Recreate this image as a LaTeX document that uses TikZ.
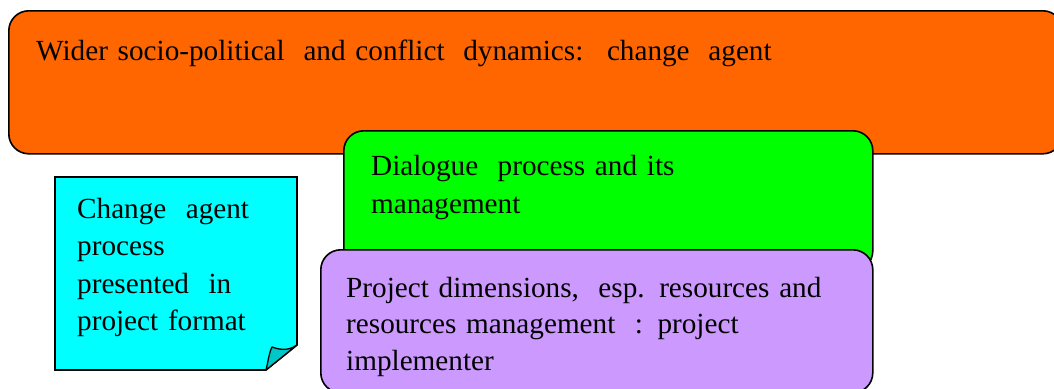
\documentclass[tikz,border=0pt]{standalone}
\usepackage{fontspec}
\setmainfont{Liberation Serif}
\definecolor{wideorange}{HTML}{FF6600}
\definecolor{dialoguegreen}{HTML}{00FF00}
\definecolor{projectpurple}{HTML}{CC99FF}
\definecolor{notecyan}{HTML}{00FFFF}
\definecolor{notefold}{HTML}{00C8C8}
\tikzset{
  panel/.style={draw=black, line width=1.6pt, rounded corners=20pt},
  label/.style={anchor=base west, inner sep=0pt, align=left, text width=#1},
  label/.default=520pt,
  txt/.style={font=\fontsize{29.2}{#1}\selectfont},
}
\begin{document}
\begin{tikzpicture}[x=1pt, y=-1pt]
  \clip (0,0) rectangle (1054,388);
  \useasboundingbox (0,0) rectangle (1054,388);

  % wider context panel (runs off the right edge)
  \node[panel, fill=wideorange, anchor=north west, minimum width=1054pt,
        minimum height=143pt] (wider) at (8,10) {};
  \node[label=980pt, txt=36] (widertext) at (36,60)
    {Wider socio-political\hspace{9pt} and conflict\hspace{9pt} dynamics:\hspace{9pt} change\hspace{9pt} agent};

  % dialogue panel
  \node[panel, fill=dialoguegreen, anchor=north west, minimum width=529pt,
        minimum height=140pt] (dialogue) at (343,130) {};
  \node[label=480pt, txt=38] (dialoguetext) at (371,175)
    {Dialogue\ \ process and its\\management};

  % project panel (runs off the bottom edge)
  \node[panel, fill=projectpurple, anchor=north west, minimum width=552pt,
        minimum height=143pt] (project) at (320,249) {};
  \node[label=500pt, txt=36.5] (projecttext) at (346,297)
    {Project dimensions,\ \ esp. resources and\\resources management\ \ : project\\implementer};

  % note with folded corner
  \coordinate (nA) at (55,177);
  \coordinate (nB) at (297,177);
  \coordinate (nC) at (297,345);
  \coordinate (nD) at (266,370);
  \coordinate (nE) at (55,370);
  \coordinate (nF) at (272,347);
  \draw[line width=1.6pt, fill=notecyan, line join=miter]
    (nA) -- (nB) -- (nC) -- (nD) -- (nE) -- cycle;
  \draw[line width=1.3pt, fill=notefold, line join=round]
    (nD) .. controls (268,362) and (269,353) .. (nF)
         .. controls (278,349) and (287,352) .. (nC) -- cycle;
  \node[label=215pt, txt=37.5] (notetext) at (77,218)
    {Change\ \ agent\\process\\presented\ \ in\\project format};
\end{tikzpicture}
\end{document}
